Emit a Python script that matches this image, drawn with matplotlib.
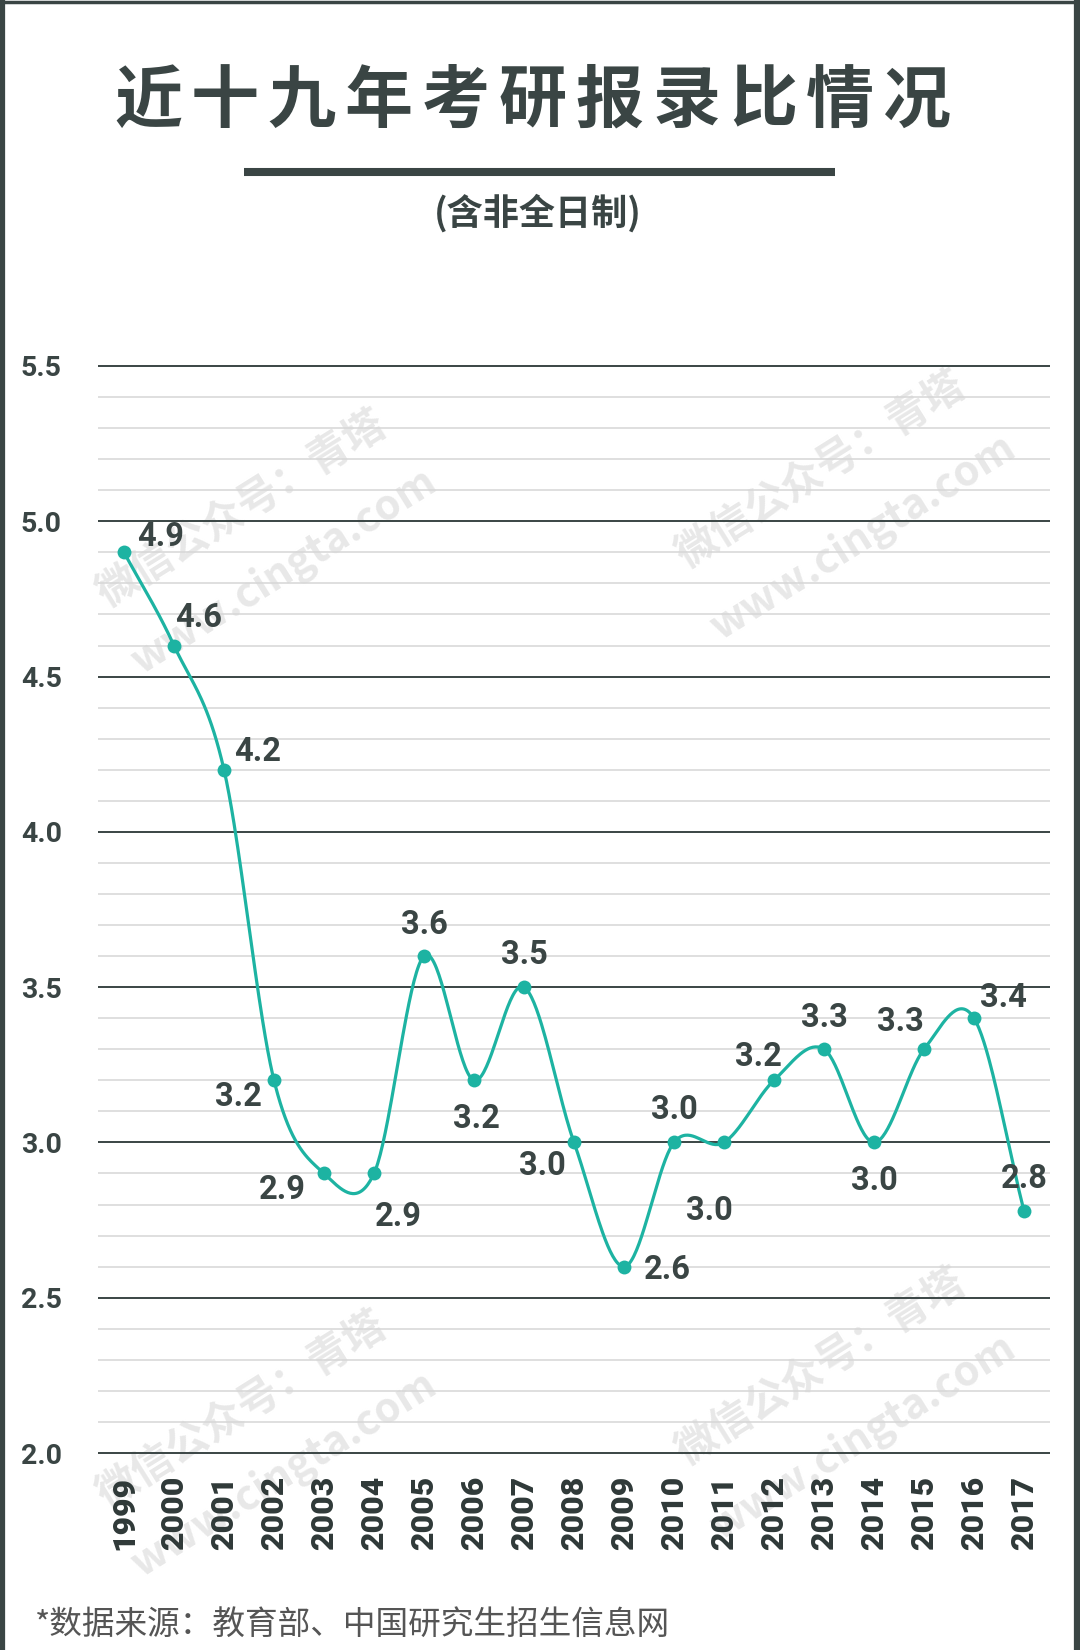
import numpy as np
import matplotlib
matplotlib.use("Agg")
import matplotlib.pyplot as plt
from matplotlib.ticker import MultipleLocator, FixedLocator
from matplotlib.lines import Line2D

# ---------------- data ----------------
years = [str(y) for y in range(1999, 2018)]
ratios = [4.9, 4.6, 4.2, 3.2, 2.9, 2.9, 3.6, 3.2, 3.5, 3.0,
          2.6, 3.0, 3.0, 3.2, 3.3, 3.0, 3.3, 3.4, 2.78]
value_labels = ["4.9", "4.6", "4.2", "3.2", "2.9", "2.9", "3.6", "3.2", "3.5", "3.0",
                "2.6", "3.0", "3.0", "3.2", "3.3", "3.0", "3.3", "3.4", "2.8"]
y_ticks = [2.0, 2.5, 3.0, 3.5, 4.0, 4.5, 5.0, 5.5]
title_text = "近十九年考研报录比情况"
subtitle_text = "(含非全日制)"
footer_text = "*数据来源：教育部、中国研究生招生信息网"
watermark_lines = ["微信公众号：青塔", "www.cingta.com"]

# label offsets in pixels (dx, dy with dy positive = down)
label_offsets = [(37, -15), (25, -28), (34, -18), (-36, 17), (-42, 17), (24, 44),
                 (0, -31), (2, 39), (0, -32), (-32, 24), (43, 3), (0, -32),
                 (-15, 69), (-16, -23), (0, -31), (0, 39), (-24, -27), (29, -20), (0, -32)]

# ---------------- style ----------------
DARK = "#3a4544"
TEAL = "#1db3a2"
MINOR = "#d6d6d6"
CJK = ["Noto Sans CJK SC", "DejaVu Sans"]
W, H = 1080, 1650

fig = plt.figure(figsize=(W / 100, H / 100), dpi=100)
fig.patch.set_facecolor("white")

def fx(px):
    return px / W

def fy(py):
    return 1 - py / H

# axes placement
ylo, yhi = 1.99, 5.51
pix_per_unit = (1453 - 366) / 3.5
ax_top = 366 - (yhi - 5.5) * pix_per_unit
ax_bot = 1453 + (2.0 - ylo) * pix_per_unit
ax_left, ax_right = 98, 1050
ax = fig.add_axes([fx(ax_left), fy(ax_bot), (ax_right - ax_left) / W, (ax_bot - ax_top) / H])
ax.patch.set_alpha(0)
ax.set_zorder(2)

x = np.arange(len(years))
ax.set_xlim(-0.52, len(years) - 1 + 0.52)
ax.set_ylim(ylo, yhi)

# watermarks (faint, behind the chart)
wm_groups = [((242, 510), (284, 571)), ((821, 471), (863, 537)),
             ((242, 1411), (284, 1474)), ((821, 1368), (863, 1437))]
for g in wm_groups:
    for (px, py), txt in zip(g, watermark_lines):
        fig.text(fx(px), fy(py), txt, rotation=32, ha="center", va="center",
                 fontsize=30, color="#e8e8e8", family=CJK, weight="bold", zorder=1)

# grid
ax.yaxis.set_major_locator(FixedLocator(y_ticks))
ax.yaxis.set_minor_locator(MultipleLocator(0.1))
ax.grid(which="major", axis="y", color=DARK, linewidth=1.4, zorder=1)
ax.grid(which="minor", axis="y", color=MINOR, linewidth=1.1, zorder=1)
ax.set_axisbelow(True)
for s in ax.spines.values():
    s.set_visible(False)

ax.set_yticklabels([f"{t:.1f}" for t in y_ticks], fontfamily="Roboto",
                   fontweight="bold", fontsize=20.5, color=DARK)
ax.tick_params(axis="y", which="both", length=0, pad=26)

ax.set_xticks(x)
ax.set_xticklabels(years, rotation=90, fontfamily="Roboto", fontweight="black",
                   fontsize=23, color="#2f3938")
ax.tick_params(axis="x", length=0, pad=14)

# smooth Catmull-Rom curve through the data
def catmull_rom(xs, ys, n=40):
    xs = np.asarray(xs, float)
    ys = np.asarray(ys, float)
    m = np.zeros_like(ys)
    m[1:-1] = (ys[2:] - ys[:-2]) / 2
    m[0] = ys[1] - ys[0]
    m[-1] = ys[-1] - ys[-2]
    out_x, out_y = [], []
    for i in range(len(xs) - 1):
        t = np.linspace(0, 1, n, endpoint=False)
        h00 = 2 * t**3 - 3 * t**2 + 1
        h10 = t**3 - 2 * t**2 + t
        h01 = -2 * t**3 + 3 * t**2
        h11 = t**3 - t**2
        out_x.append(xs[i] + t * (xs[i + 1] - xs[i]))
        out_y.append(h00 * ys[i] + h10 * m[i] + h01 * ys[i + 1] + h11 * m[i + 1])
    out_x.append([xs[-1]])
    out_y.append([ys[-1]])
    return np.concatenate(out_x), np.concatenate(out_y)

sx, sy = catmull_rom(x, ratios)
ax.plot(sx, sy, color=TEAL, linewidth=2.3, zorder=3, solid_capstyle="round")
ax.plot(x, ratios, "o", color=TEAL, markersize=10, zorder=4, markeredgewidth=0)

for xi, yi, lab, (dx, dy) in zip(x, ratios, value_labels, label_offsets):
    ax.annotate(lab, (xi, yi), xytext=(dx * 0.72, -dy * 0.72), textcoords="offset points",
                ha="center", va="center", fontsize=23.5, fontfamily="Roboto",
                fontweight="bold", color=DARK, zorder=5)

# title (characters spaced out)
n = len(title_text)
x0, x1 = 148, 917
for i, ch in enumerate(title_text):
    fig.text(fx(x0 + i * (x1 - x0) / (n - 1)), fy(102), ch, ha="center", va="center",
             fontsize=49, family=CJK, weight="heavy", color=DARK, zorder=3)

# bar under title
fig.add_artist(Line2D([fx(244), fx(835)], [fy(172), fy(172)], color=DARK,
                      linewidth=5.8, solid_capstyle="butt", zorder=3))

fig.text(fx(538), fy(213), subtitle_text, ha="center", va="center", fontsize=26,
         family=CJK, weight="bold", color=DARK, zorder=3)

fig.text(fx(35), fy(1625), footer_text, ha="left", va="center", fontsize=23.5,
         family=CJK, color="#555555", zorder=3)

# frame
fw = DARK
fig.add_artist(Line2D([fx(2), fx(2)], [0, 1], color=fw, linewidth=4.5, zorder=4))
fig.add_artist(Line2D([fx(1077), fx(1077)], [0, 1], color=fw, linewidth=4.5, zorder=4))
fig.add_artist(Line2D([0, 1], [fy(1.5), fy(1.5)], color=fw, linewidth=2.5, zorder=4))

fig.savefig("out.png", dpi=100, facecolor="white")
